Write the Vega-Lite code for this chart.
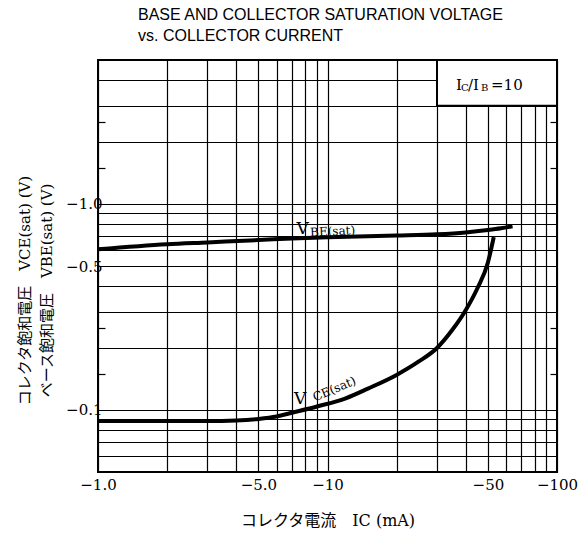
{
  "$schema": "https://vega.github.io/schema/vega-lite/v6.json",
  "width": 459,
  "height": 412,
  "autosize": "none",
  "padding": {"left": 98, "top": 60, "right": 24, "bottom": 65},
  "background": "white",
  "config": {
    "view": {"stroke": "black", "strokeWidth": 2},
    "axis": {"domain": false, "gridColor": "black", "gridWidth": 1.2, "gridOpacity": 1}
  },
  "title": {
    "text": ["BASE AND COLLECTOR SATURATION VOLTAGE", "vs. COLLECTOR CURRENT"],
    "anchor": "start",
    "frame": "group",
    "dx": 40,
    "offset": 9,
    "font": "Liberation Sans",
    "fontSize": 16,
    "fontWeight": 400,
    "lineHeight": 21,
    "color": "black"
  },
  "datasets": {
    "curves": [
      {"ic": 1, "v": 0.603, "series": "VBE"},
      {"ic": 2, "v": 0.638, "series": "VBE"},
      {"ic": 3, "v": 0.651, "series": "VBE"},
      {"ic": 5, "v": 0.668, "series": "VBE"},
      {"ic": 7, "v": 0.68, "series": "VBE"},
      {"ic": 10, "v": 0.69, "series": "VBE"},
      {"ic": 20, "v": 0.703, "series": "VBE"},
      {"ic": 30, "v": 0.713, "series": "VBE"},
      {"ic": 40, "v": 0.728, "series": "VBE"},
      {"ic": 50, "v": 0.748, "series": "VBE"},
      {"ic": 57, "v": 0.763, "series": "VBE"},
      {"ic": 64, "v": 0.78, "series": "VBE"},
      {"ic": 1, "v": 0.0885, "series": "VCE"},
      {"ic": 2, "v": 0.0885, "series": "VCE"},
      {"ic": 3, "v": 0.0885, "series": "VCE"},
      {"ic": 4, "v": 0.089, "series": "VCE"},
      {"ic": 5, "v": 0.0905, "series": "VCE"},
      {"ic": 6, "v": 0.093, "series": "VCE"},
      {"ic": 7, "v": 0.097, "series": "VCE"},
      {"ic": 9, "v": 0.104, "series": "VCE"},
      {"ic": 12, "v": 0.114, "series": "VCE"},
      {"ic": 15, "v": 0.127, "series": "VCE"},
      {"ic": 20, "v": 0.148, "series": "VCE"},
      {"ic": 25, "v": 0.172, "series": "VCE"},
      {"ic": 30, "v": 0.2, "series": "VCE"},
      {"ic": 35, "v": 0.245, "series": "VCE"},
      {"ic": 40, "v": 0.305, "series": "VCE"},
      {"ic": 45, "v": 0.39, "series": "VCE"},
      {"ic": 50, "v": 0.52, "series": "VCE"},
      {"ic": 53, "v": 0.69, "series": "VCE"}
    ],
    "one": [{}]
  },
  "resolve": {"axis": {"y": "independent"}},
  "layer": [
    {
      "data": {"name": "one"},
      "mark": {"type": "rect", "fill": "white", "stroke": "black", "strokeWidth": 2},
      "encoding": {
        "x": {"datum": 30, "type": "quantitative", "scale": {"type": "log", "domain": [1, 100], "nice": false}},
        "x2": {"datum": 100},
        "y": {"datum": 3, "type": "quantitative", "scale": {"type": "log", "domain": [0.05, 5], "nice": false}, "axis": null},
        "y2": {"datum": 5}
      }
    },
    {
      "data": {"name": "curves"},
      "transform": [{"filter": "datum.series == 'VBE'"}],
      "mark": {"type": "line", "color": "black", "strokeWidth": 4, "interpolate": "monotone"},
      "encoding": {
        "x": {
          "field": "ic", "type": "quantitative",
          "scale": {"type": "log", "domain": [1, 100], "nice": false},
          "axis": {
            "values": [1,2,3,4,5,6,7,8,9,10,20,30,40,50,60,70,80,90,100],
            "labelExpr": "datum.value == 1 ? '−1.0' : datum.value == 5 ? '−5.0' : datum.value == 10 ? '−10' : datum.value == 50 ? '−50' : datum.value == 100 ? '−100' : ''",
            "labelOverlap": false, "labelBound": false, "labelFlush": false,
            "ticks": false, "labelPadding": 5,
            "labelFont": "DejaVu Serif", "labelFontSize": 15, "labelColor": "black",
            "grid": true,
            "title": "コレクタ電流　IC (mA)",
            "titleFont": "DejaVu Serif, Noto Sans CJK JP", "titleFontSize": 16, "titleFontWeight": "normal",
            "titleColor": "black", "titlePadding": 20
          }
        },
        "y": {
          "field": "v", "type": "quantitative",
          "scale": {"type": "log", "domain": [0.05, 5], "nice": false},
          "axis": {
            "orient": "left",
            "values": [0.05,0.06,0.07,0.08,0.09,0.1,0.15,0.2,0.25,0.3,0.4,0.5,0.6,0.7,0.8,0.9,1,1.5,2,2.5,3,4,5],
            "labelExpr": "datum.value == 0.1 ? '−0.1' : datum.value == 0.5 ? '−0.5' : datum.value == 1 ? '−1.0' : ''",
            "labelOverlap": false, "labelBound": false, "labelFlush": false,
            "labelFont": "DejaVu Serif", "labelFontSize": 15, "labelColor": "black", "labelPadding": 3,
            "grid": true,
            "gridOpacity": {"condition": {"test": "datum.value == 0.15 || datum.value == 0.25 || datum.value == 1.5 || datum.value == 2.5", "value": 0}, "value": 1},
            "ticks": true, "tickSize": -7, "tickColor": "black", "tickWidth": 1.2,
            "tickOpacity": {"condition": {"test": "datum.value == 0.15 || datum.value == 0.25 || datum.value == 1.5 || datum.value == 2.5", "value": 1}, "value": 0},
            "title": ["コレクタ飽和電圧　VCE(sat)  (V)", "ベース飽和電圧　VBE(sat)  (V)"],
            "titleFont": "DejaVu Serif, Noto Sans CJK JP", "titleFontSize": 15, "titleFontWeight": "normal",
            "titleColor": "black", "titlePadding": 11, "titleLineHeight": 22, "titleY": 230
          }
        }
      }
    },
    {
      "data": {"name": "curves"},
      "transform": [{"filter": "datum.series == 'VCE'"}],
      "mark": {"type": "line", "color": "black", "strokeWidth": 4, "interpolate": "monotone"},
      "encoding": {
        "x": {"field": "ic", "type": "quantitative", "scale": {"type": "log", "domain": [1, 100], "nice": false}},
        "y": {
          "field": "v", "type": "quantitative",
          "scale": {"type": "log", "domain": [0.05, 5], "nice": false},
          "axis": {
            "orient": "right",
            "values": [0.15, 0.25, 1.5, 2.5],
            "labels": false, "grid": false, "title": null,
            "ticks": true, "tickSize": -7, "tickColor": "black", "tickWidth": 1.2
          }
        }
      }
    },
    {
      "data": {"name": "one"},
      "mark": {"type": "text", "font": "DejaVu Serif", "fontSize": 17, "align": "center", "baseline": "middle", "color": "black"},
      "encoding": {
        "x": {"datum": 7.8, "type": "quantitative"},
        "y": {"datum": 0.758, "type": "quantitative", "axis": null},
        "text": {"value": "V"}
      }
    },
    {
      "data": {"name": "one"},
      "mark": {"type": "text", "font": "DejaVu Serif", "fontSize": 12, "align": "left", "baseline": "middle", "angle": -3, "color": "black"},
      "encoding": {
        "x": {"datum": 8.4, "type": "quantitative"},
        "y": {"datum": 0.727, "type": "quantitative", "axis": null},
        "text": {"value": "BE(sat)"}
      }
    },
    {
      "data": {"name": "one"},
      "mark": {"type": "text", "font": "DejaVu Serif", "fontSize": 17, "align": "center", "baseline": "middle", "color": "black"},
      "encoding": {
        "x": {"datum": 7.6, "type": "quantitative"},
        "y": {"datum": 0.113, "type": "quantitative", "axis": null},
        "text": {"value": "V"}
      }
    },
    {
      "data": {"name": "one"},
      "mark": {"type": "text", "font": "DejaVu Serif", "fontSize": 12, "align": "center", "baseline": "middle", "angle": -23, "color": "black"},
      "encoding": {
        "x": {"datum": 10.7, "type": "quantitative"},
        "y": {"datum": 0.1265, "type": "quantitative", "axis": null},
        "text": {"value": "CE(sat)"}
      }
    },
    {
      "data": {"name": "one"},
      "mark": {"type": "text", "font": "DejaVu Serif", "fontSize": 15, "align": "left", "baseline": "middle", "color": "black"},
      "encoding": {
        "x": {"datum": 36.3, "type": "quantitative"},
        "y": {"datum": 3.8, "type": "quantitative", "axis": null},
        "text": {"value": "I"}
      }
    },
    {
      "data": {"name": "one"},
      "mark": {"type": "text", "font": "DejaVu Serif", "fontSize": 10, "align": "left", "baseline": "middle", "color": "black"},
      "encoding": {
        "x": {"datum": 38.2, "type": "quantitative"},
        "y": {"datum": 3.66, "type": "quantitative", "axis": null},
        "text": {"value": "C"}
      }
    },
    {
      "data": {"name": "one"},
      "mark": {"type": "text", "font": "DejaVu Serif", "fontSize": 15, "align": "left", "baseline": "middle", "color": "black"},
      "encoding": {
        "x": {"datum": 40.9, "type": "quantitative"},
        "y": {"datum": 3.8, "type": "quantitative", "axis": null},
        "text": {"value": "/I"}
      }
    },
    {
      "data": {"name": "one"},
      "mark": {"type": "text", "font": "DejaVu Serif", "fontSize": 10, "align": "left", "baseline": "middle", "color": "black"},
      "encoding": {
        "x": {"datum": 46.6, "type": "quantitative"},
        "y": {"datum": 3.66, "type": "quantitative", "axis": null},
        "text": {"value": "B"}
      }
    },
    {
      "data": {"name": "one"},
      "mark": {"type": "text", "font": "DejaVu Serif", "fontSize": 15, "align": "left", "baseline": "middle", "color": "black"},
      "encoding": {
        "x": {"datum": 51.6, "type": "quantitative"},
        "y": {"datum": 3.8, "type": "quantitative", "axis": null},
        "text": {"value": "=10"}
      }
    }
  ]
}
